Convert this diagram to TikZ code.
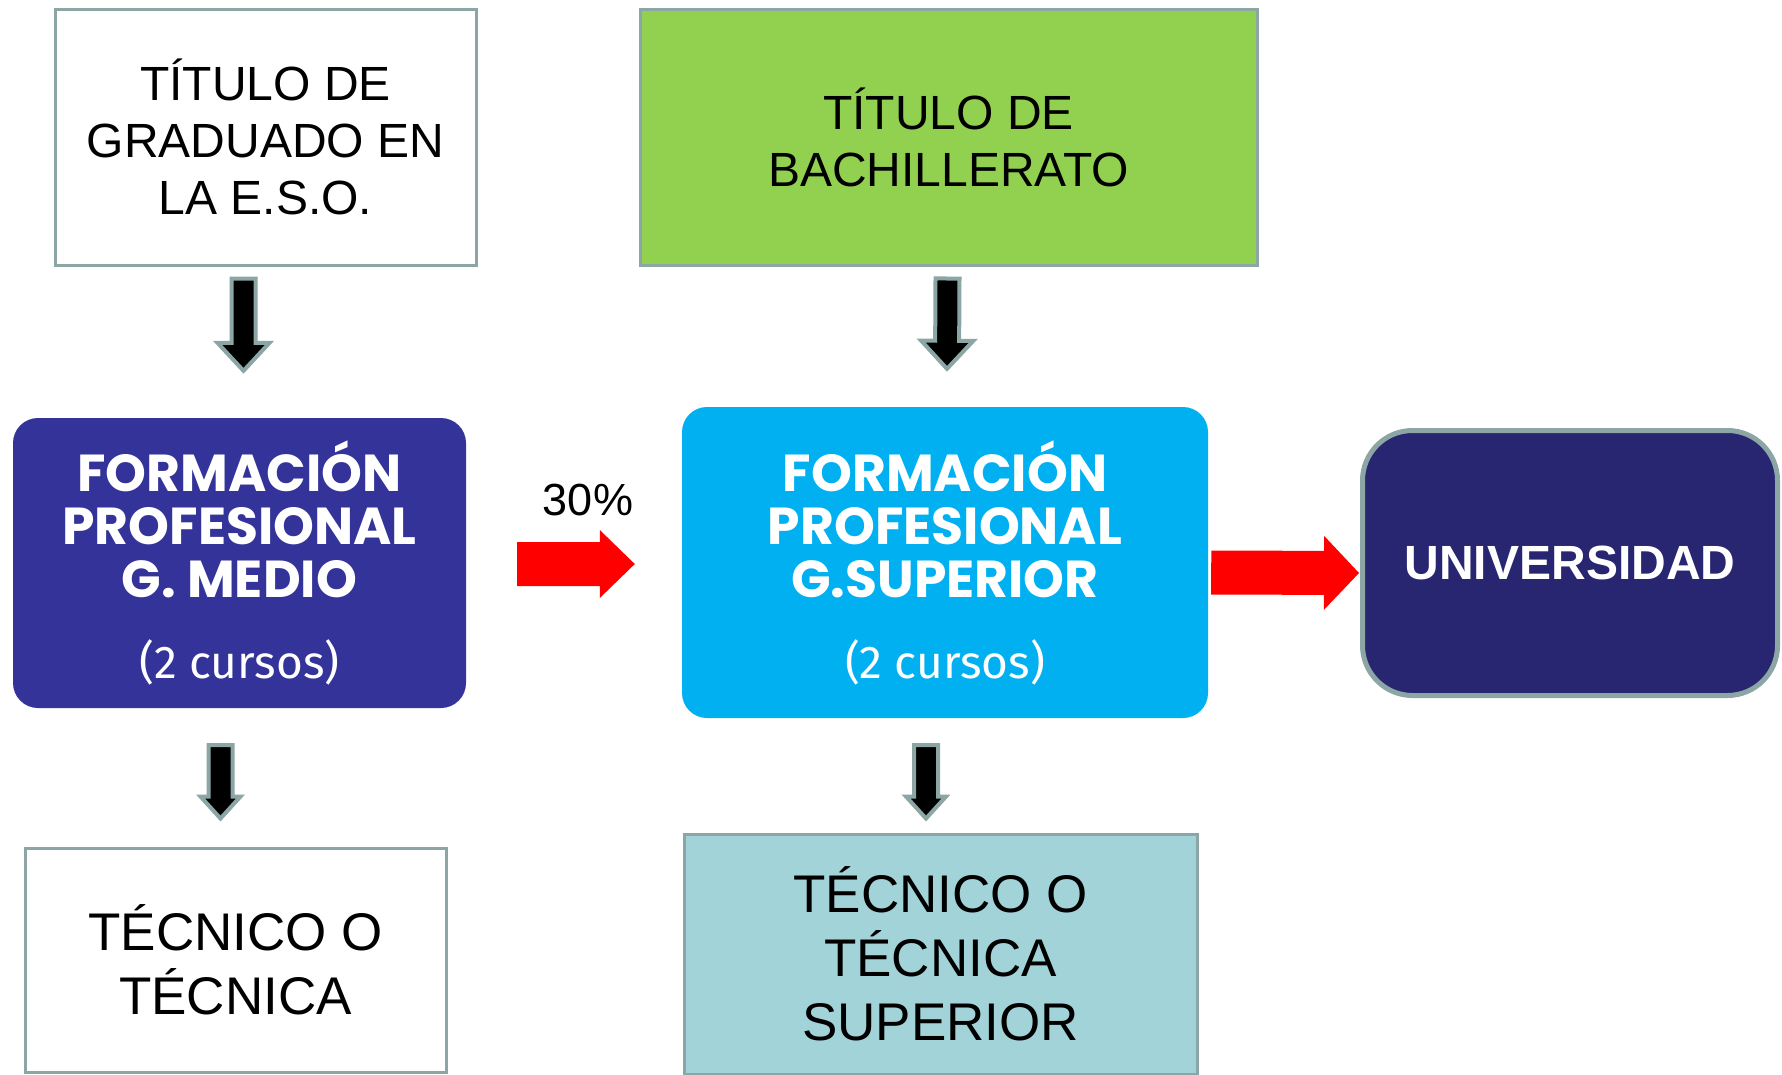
\documentclass[tikz,border=0pt]{standalone}
\usepackage{fontspec}
\setmainfont{Liberation Sans}
\newfontfamily\fpfont{Poppins}
\newfontfamily\cursosfont{Fira Sans}
\usetikzlibrary{calc}

\definecolor{boxgray}{RGB}{140,165,165}
\definecolor{fpmblue}{RGB}{51,51,153}
\definecolor{fpsblue}{RGB}{0,176,240}
\definecolor{uninavy}{RGB}{40,38,112}
\definecolor{bachgreen}{RGB}{146,208,80}
\definecolor{tecteal}{RGB}{161,211,216}

% block arrow: style, from, to, shaft half width, head half width, head length
\newcommand{\blockarrow}[6]{%
	\coordinate (ba-s) at #2;
	\coordinate (ba-e) at #3;
	\coordinate (ba-h) at ($(ba-e)!#6!(ba-s)$);
	\path[#1] ($(ba-s)!#4!90:(ba-e)$) -- ($(ba-h)!#4!90:(ba-e)$) -- ($(ba-h)!#5!90:(ba-e)$)
		-- (ba-e) -- ($(ba-h)!#5!-90:(ba-e)$) -- ($(ba-h)!#4!-90:(ba-e)$) -- ($(ba-s)!#4!-90:(ba-e)$) -- cycle;
}

\tikzset{
	titlebox/.style={draw=boxgray, line width=3pt, inner sep=0pt, align=center},
	fpbox/.style={rounded corners=25pt, inner sep=0pt, align=center, text=white},
	downarrow/.style={draw=boxgray, fill=black, line width=4pt, miter limit=3},
	redarrow/.style={fill=red}
}

\begin{document}
\begin{tikzpicture}[x=1pt, y=-1pt]
	\useasboundingbox (0,0) rectangle (1782,1074);

	% top row
	\node[titlebox, minimum width=421pt, minimum height=256pt, font=\fontsize{48}{57}\selectfont] at (265.5, 137) (eso) {TÍTULO DE\\GRADUADO EN\\LA E.S.O.};
	\node[titlebox, fill=bachgreen, minimum width=617pt, minimum height=256pt, font=\fontsize{48}{57}\selectfont] at (948.5, 137) (bach) {TÍTULO DE\\BACHILLERATO};

	% middle row
	\node[fpbox, fill=fpmblue, minimum width=453pt, minimum height=290pt, font=\fpfont\bfseries\fontsize{52}{53}\selectfont] at (239.5, 563) (fpm)
		{FORMACIÓN\\PROFESIONAL\\G. MEDIO\\[28pt]{\cursosfont\mdseries\fontsize{46}{46}\selectfont (2 cursos)}};
	\node[fpbox, fill=fpsblue, minimum width=526pt, minimum height=311pt, font=\fpfont\bfseries\fontsize{52}{53}\selectfont] at (945, 562.5) (fps)
		{FORMACIÓN\\PROFESIONAL\\G.SUPERIOR\\[28pt]{\cursosfont\mdseries\fontsize{46}{46}\selectfont (2 cursos)}};
	\node[draw=boxgray, line width=5pt, fill=uninavy, rounded corners=50pt, minimum width=415pt, minimum height=265pt, text=white, font=\bfseries\fontsize{48}{48}\selectfont] at (1570, 563) (uni) {UNIVERSIDAD};

	\node[font=\fontsize{45}{45}\selectfont] at (588, 500) (pct) {30\%};

	% bottom row
	\node[titlebox, minimum width=421pt, minimum height=224pt, font=\fontsize{53}{64}\selectfont] at (235.5, 960) (tec1) {TÉCNICO O\\TÉCNICA};
	\node[titlebox, fill=tecteal, minimum width=513pt, minimum height=240pt, font=\fontsize{53}{64}\selectfont] at (940.5, 954) (tecs) {TÉCNICO O\\TÉCNICA\\SUPERIOR};

	% draw arrows
	\blockarrow{downarrow}{($(eso.south)+(-22,12)$)}{($(fpm.north)+(4,-47)$)}{12pt}{26pt}{28pt}
	\blockarrow{downarrow}{($(bach.south)+(-1,12)$)}{($(fps.north)+(2,-38)$)}{12pt}{26pt}{28pt}
	\blockarrow{downarrow}{($(fpm.south)+(-19,37)$)}{($(tec1.north)+(-15,-28)$)}{12pt}{20pt}{22pt}
	\blockarrow{downarrow}{($(fps.south)+(-19,27)$)}{($(tecs.north)+(-14.5,-14)$)}{12pt}{20pt}{22pt}

	\blockarrow{redarrow}{($(fpm.east)+(51,1)$)}{($(fps.west)+(-47,1.5)$)}{22pt}{34pt}{35pt}
	\blockarrow{redarrow}{($(fps.east)+(3,10)$)}{($(uni.west)+(-1,10)$)}{22pt}{37pt}{35pt}
\end{tikzpicture}
\end{document}
